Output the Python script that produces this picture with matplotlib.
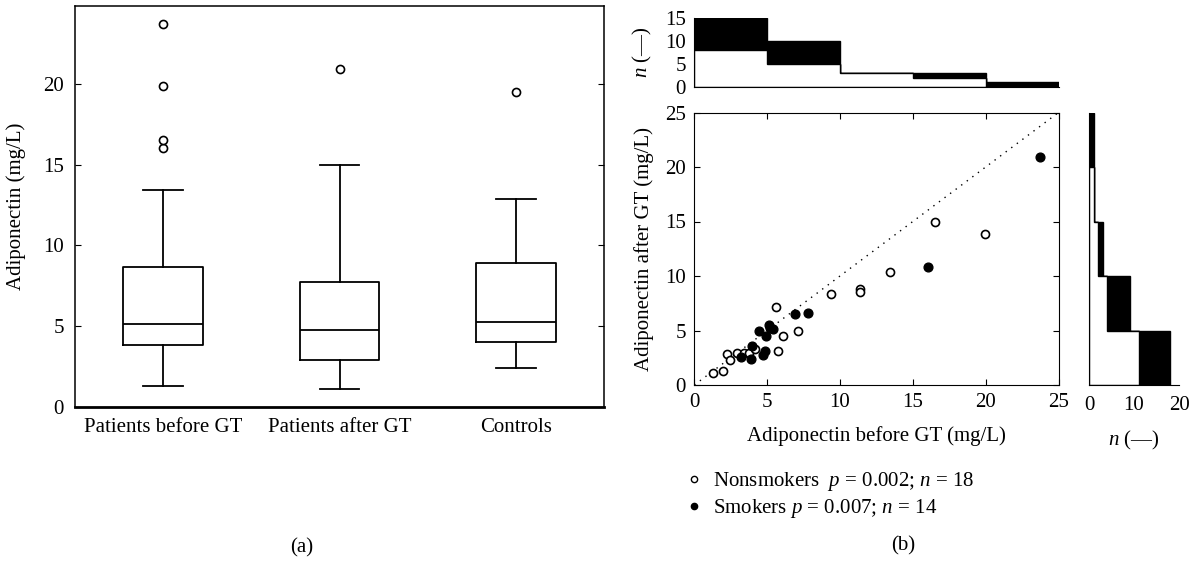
import matplotlib
matplotlib.use('Agg')
import matplotlib.pyplot as plt
import matplotlib.transforms as mtransforms
from matplotlib.lines import Line2D
import numpy as np

plt.rcParams['font.family'] = ['Liberation Serif', 'DejaVu Serif']
plt.rcParams['font.size'] = 15
plt.rcParams['mathtext.fontset'] = 'custom'
plt.rcParams['mathtext.rm'] = 'Liberation Serif'
plt.rcParams['mathtext.it'] = 'Liberation Serif:italic'

# (a) box plot summary values
groups = ['Patients before GT', 'Patients after GT', 'Controls']
whisker_low = [1.3, 1.1, 2.4]
q1 = [3.82, 2.89, 3.99]
medians = [5.1, 4.77, 5.23]
q3 = [8.64, 7.75, 8.93]
whisker_high = [13.4, 15.0, 12.9]
outliers = [[16.0, 16.5, 19.88, 23.7], [20.9], [19.48]]

# (b) adiponectin before / after GT
non_before = [1.26, 2.0, 2.27, 2.45, 2.91, 3.4, 3.74, 4.17, 5.64, 5.73,
              6.06, 7.13, 9.38, 11.4, 11.4, 13.42, 16.51, 19.93]
non_after = [1.07, 1.25, 2.87, 2.32, 2.9, 2.9, 2.9, 3.27, 7.16, 3.15,
             4.53, 4.95, 8.38, 8.8, 8.56, 10.34, 15.0, 13.88]
smk_before = [3.21, 3.88, 3.94, 4.43, 4.72, 4.84, 4.89, 5.11, 5.2, 5.41,
              6.9, 7.82, 16.03, 23.74]
smk_after = [2.57, 2.39, 3.55, 4.95, 2.78, 3.15, 4.53, 5.47, 5.26, 5.1,
             6.48, 6.6, 10.8, 20.92]
bins = [0, 5, 10, 15, 20, 25]

W, H = 1196, 561
fig = plt.figure(figsize=(W / 100, H / 100), dpi=100)


def rect(left, top, right, bottom):
    return [left / W, 1 - bottom / H, (right - left) / W, (bottom - top) / H]


# ---- (a) box plot
ax = fig.add_axes(rect(75, 6, 604, 406.7))
stats = []
for i in range(len(groups)):
    stats.append({'med': medians[i], 'q1': q1[i], 'q3': q3[i],
                  'whislo': whisker_low[i], 'whishi': whisker_high[i],
                  'fliers': outliers[i]})
line = dict(color='black', linewidth=1.3)
ax.bxp(stats, positions=[1, 2, 3], widths=0.45,
       boxprops=line, medianprops=line, whiskerprops=line, capprops=line,
       flierprops=dict(marker='o', markerfacecolor='white', markeredgecolor='black',
                       markersize=5.8, markeredgewidth=1.2))
ax.set_xlim(0.5, 3.5)
ax.set_ylim(0, 24.83)
ax.set_yticks([0, 5, 10, 15, 20])
ax.set_xticks([1, 2, 3])
ax.set_xticklabels(groups)
offset = mtransforms.ScaledTranslation(10 / 100, 0, fig.dpi_scale_trans)
for lab in ax.get_xticklabels():
    lab.set_transform(lab.get_transform() + offset)
ax.tick_params(axis='x', length=0, pad=8)
ax.tick_params(axis='y', direction='in', left=True, right=True, length=4, pad=8)
ax.set_ylabel('Adiponectin (mg/L)', labelpad=12)
for s in ax.spines.values():
    s.set_linewidth(1.1)
ax.spines['bottom'].set_linewidth(2)
fig.text(302 / W, 1 - 548 / H, '(a)', ha='center', va='center')

# ---- (b) scatter
axs = fig.add_axes(rect(694.3, 112.5, 1058.5, 385))
axs.plot([0, 25], [0, 25], linestyle=(0, (1, 4)), color='black', linewidth=1)
axs.plot(non_before, non_after, 'o', markerfacecolor='white', markeredgecolor='black',
         markersize=5.8, markeredgewidth=1.2, linestyle='none')
axs.plot(smk_before, smk_after, 'o', color='black', markersize=6.3, linestyle='none')
axs.set_xlim(0, 25)
axs.set_ylim(0, 25)
axs.set_xticks(range(0, 26, 5))
axs.set_yticks(range(0, 26, 5))
axs.tick_params(direction='in', top=True, right=True, length=4, pad=6)
axs.set_xlabel('Adiponectin before GT (mg/L)', labelpad=10)
axs.set_ylabel('Adiponectin after GT (mg/L)', labelpad=8)

# top histogram (before GT)
axt = fig.add_axes(rect(694.3, 18.3, 1058.5, 87))
axt.hist([non_before, smk_before], bins=bins, stacked=True, histtype='stepfilled',
         color=['white', 'black'], edgecolor='black', linewidth=1)
axt.set_xlim(0, 25)
axt.set_ylim(0, 15)
axt.set_yticks([0, 5, 10, 15])
axt.set_xticks([])
axt.tick_params(axis='y', length=0, pad=6)
axt.spines[['top', 'right']].set_visible(False)
axt.set_ylabel('$n$ (—)', labelpad=8)

# right histogram (after GT)
axr = fig.add_axes(rect(1089, 112.5, 1179, 385))
axr.hist([non_after, smk_after], bins=bins, stacked=True, histtype='stepfilled',
         orientation='horizontal', color=['white', 'black'], edgecolor='black', linewidth=1)
axr.set_ylim(0, 25)
axr.set_xlim(0, 20)
axr.set_xticks([0, 10, 20])
axr.set_yticks([])
axr.tick_params(axis='x', length=0, pad=8)
axr.spines[['top', 'right']].set_visible(False)
axr.set_xlabel('$n$ (—)', labelpad=10)

handles = [
    Line2D([], [], marker='o', linestyle='none', markerfacecolor='white',
           markeredgecolor='black', markersize=4.5, markeredgewidth=1),
    Line2D([], [], marker='o', linestyle='none', color='black', markersize=4.5),
]
labels = ['Nonsmokers  $p$ = 0.002; $n$ = 18', 'Smokers $p$ = 0.007; $n$ = 14']
fig.legend(handles, labels, loc='upper left', bbox_to_anchor=(686 / W, 1 - 470 / H),
           frameon=False, handlelength=0.8, handletextpad=0.5, borderpad=0,
           borderaxespad=0, labelspacing=0.2)
fig.text(903 / W, 1 - 546 / H, '(b)', ha='center', va='center')

plt.savefig('out.png', dpi=100)
